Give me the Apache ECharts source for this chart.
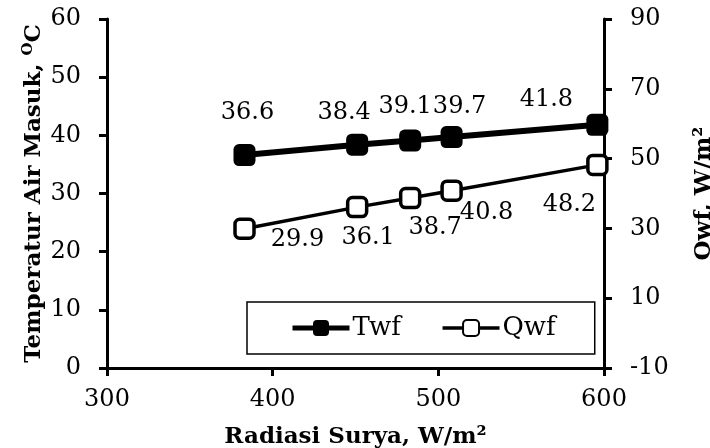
<!DOCTYPE html>
<html>
<head>
<meta charset="utf-8">
<script src="https://cdn.jsdelivr.net/npm/echarts@6/dist/echarts.min.js"></script>
<style>
html, body { margin: 0; padding: 0; background: #fff; }
#chart { width: 710px; height: 448px; }
</style>
</head>
<body>
<div id="chart"></div>
<script>
// data
const radiasi = [383, 451, 483, 508, 596]
const twf = [36.6, 38.4, 39.1, 39.7, 41.8]
const qwf = [29.9, 36.1, 38.7, 40.8, 48.2]
const rightTicks = [-10, 10, 30, 50, 70, 90]

// label placement (px, from point centre)
const twfOffsets = [[3, -42], [-13, -32], [-5, -34], [8, -30], [-51, -25]]
const qwfOffsets = [[53, 11], [11, 31], [25, 30], [35, 22], [-28, 40]]

const font = 'DejaVu Serif'
const labelStyle = { color: '#000', fontFamily: font, fontSize: 24 }
const titleStyle = { color: '#000', fontFamily: font, fontSize: 23, fontWeight: 'bold' }

const chart = echarts.init(document.getElementById('chart'))
chart.setOption({
    animation: false,
    grid: { left: 107, right: 106, top: 19, bottom: 80, outerBoundsMode: 'none' },
    legend: {
        left: 247,
        top: 302,
        orient: 'horizontal',
        borderColor: '#000',
        borderWidth: 1.5,
        padding: [13, 39, 13, 43],
        itemGap: 40,
        itemWidth: 57,
        itemHeight: 20,
        textStyle: { color: '#000', fontFamily: font, fontSize: 26, padding: [0, 0, 0, -2] },
        data: [
            { name: 'Twf', lineStyle: { width: 5 } },
            { name: 'Qwf', lineStyle: { width: 3.5 } }
        ]
    },
    xAxis: {
        type: 'value',
        min: 300,
        max: 600,
        interval: 100,
        name: 'Radiasi Surya, W/m²',
        nameLocation: 'middle',
        nameGap: 58,
        nameTextStyle: titleStyle,
        axisLine: { lineStyle: { color: '#000', width: 3 } },
        axisTick: { length: 8, lineStyle: { color: '#000', width: 3 } },
        axisLabel: { color: '#000', fontFamily: font, fontSize: 24, margin: 20 },
        splitLine: { show: false }
    },
    yAxis: [
        {
            type: 'value',
            min: 0,
            max: 60,
            interval: 10,
            name: '{a|Temperatur Air Masuk, }{s|O}{a|C}',
            nameLocation: 'middle',
            nameRotate: 90,
            nameGap: 60,
            nameMoveOverlap: false,
            nameTextStyle: {
                rich: {
                    a: titleStyle,
                    s: { color: '#000', fontFamily: font, fontSize: 15, fontWeight: 'bold', padding: [0, 0, 11, 0] }
                }
            },
            axisLine: { show: true, lineStyle: { color: '#000', width: 3 } },
            axisTick: { show: true, length: 8, lineStyle: { color: '#000', width: 3 } },
            axisLabel: { color: '#000', fontFamily: font, fontSize: 24, margin: 26 },
            splitLine: { show: false }
        },
        {
            type: 'value',
            min: -10,
            max: 90,
            position: 'right',
            name: 'Qwf, W/m²',
            nameLocation: 'middle',
            nameRotate: 90,
            nameGap: 89,
            nameTextStyle: titleStyle,
            axisLine: { show: true, lineStyle: { color: '#000', width: 3 } },
            axisTick: { show: true, length: 8, customValues: rightTicks, lineStyle: { color: '#000', width: 3 } },
            axisLabel: { color: '#000', fontFamily: font, fontSize: 24, margin: 26, customValues: rightTicks },
            splitLine: { show: false }
        }
    ],
    series: [
        {
            name: 'Twf',
            type: 'line',
            yAxisIndex: 0,
            symbol: 'roundRect',
            symbolSize: 22,
            itemStyle: { color: '#000' },
            lineStyle: { color: '#000', width: 6 },
            label: Object.assign({ show: true, position: 'inside' }, labelStyle),
            data: radiasi.map((x, i) => ({
                value: [x, twf[i]],
                label: { offset: twfOffsets[i] }
            }))
        },
        {
            name: 'Qwf',
            type: 'line',
            yAxisIndex: 1,
            symbol: 'roundRect',
            symbolSize: 19,
            itemStyle: { color: '#fff', borderColor: '#000', borderWidth: 3.5 },
            lineStyle: { color: '#000', width: 3.5 },
            label: Object.assign({ show: true, position: 'inside' }, labelStyle),
            data: radiasi.map((x, i) => ({
                value: [x, qwf[i]],
                label: { offset: qwfOffsets[i] }
            }))
        }
    ]
})
</script>
</body>
</html>
